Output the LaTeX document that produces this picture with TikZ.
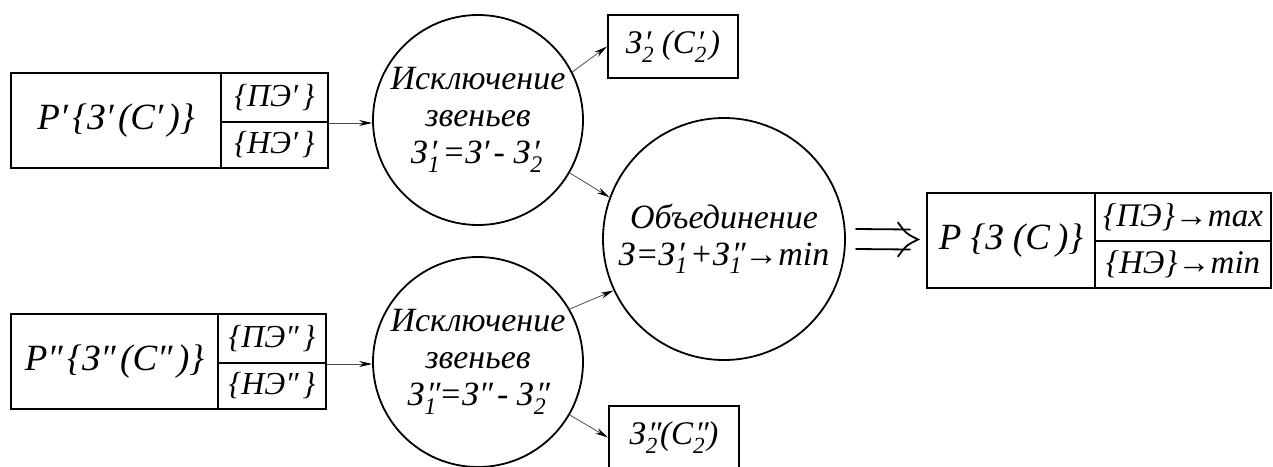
\documentclass[tikz,border=0pt]{standalone}
\usepackage{fontspec}
\setmainfont{LiberationSerif}[Extension=.ttf, UprightFont=*-Regular, ItalicFont=*-Italic]
\usetikzlibrary{arrows.meta,calc}
\makeatletter
\newcommand\ps[2]{\makebox[0pt][l]{\kern0.06em#1}\raisebox{-0.55ex}{\fontsize{\fpeval{0.7*\f@size}}{10}\selectfont #2}\kern0.08em}
\makeatother
\newcommand\pr[1]{#1\kern0.12em}
\begin{document}
\begin{tikzpicture}[x=1pt,y=-1pt,
  bx/.style={draw, line width=2pt, rectangle, inner sep=0pt, anchor=north west},
  circ/.style={draw, line width=1.8pt, circle, inner sep=0pt, align=center, font=\fontsize{34}{37}\selectfont\itshape},
  arr/.style={line width=0.8pt, draw=black!70, -{Stealth[length=13pt,width=6pt,black]}},
  big/.style={font=\fontsize{37}{40}\selectfont\itshape},
  mid/.style={font=\fontsize{32}{34}\selectfont\itshape},
  rt/.style={font=\fontsize{33}{35}\selectfont\itshape},
  dbl/.style={line width=1.8pt, line cap=round}]
\useasboundingbox (0,0) rectangle (1273,466);
\clip (0,0) rectangle (1273,466);
% left upper block
\node[bx, big, minimum width=210pt, minimum height=95pt] (p1) at (10,72) {P\pr{′}\{З\pr{′}(C\pr{′})\}};
\node[bx, mid, minimum width=107pt, minimum height=49pt] (p1a) at (220,72) {\{ПЭ\pr{′}\}};
\node[bx, mid, minimum width=107pt, minimum height=46pt] (p1b) at (220,121) {\{НЭ\pr{′}\}};
% left lower block
\node[bx, big, minimum width=207pt, minimum height=95pt] (p2) at (10,313) {P\pr{″}\{З\pr{″}(C\pr{″})\}};
\node[bx, mid, minimum width=108pt, minimum height=49pt] (p2a) at (217,313) {\{ПЭ\pr{″}\}};
\node[bx, mid, minimum width=108pt, minimum height=46pt] (p2b) at (217,362) {\{НЭ\pr{″}\}};
% circles
\node[circ, minimum size=210pt] (c1) at (478,120) {Исключение\\звеньев\\З\ps{′}{1}=З\pr{′}- З\ps{′}{2}};
\node[circ, minimum size=210pt] (c2) at (478,362) {Исключение\\звеньев\\З\ps{″}{1}=З\pr{″}- З\ps{″}{2}};
\node[circ, minimum size=242pt] (c3) at (724,239) {Объединение\\З=З\ps{′}{1}+З\ps{″}{1}→min};
% small boxes
\node[bx, rt, minimum width=130pt, minimum height=63pt] (s1) at (607,14) {З\ps{′}{2}\,(C\ps{′}{2})};
\node[bx, rt, minimum width=130pt, minimum height=63pt] (s2) at (608,405) {З\ps{″}{2}(C\ps{″}{2})};
% right block
\node[bx, big, minimum width=168pt, minimum height=95pt] (r1) at (926,192) {P \{З (C\,)\}};
\node[bx, rt, minimum width=176pt, minimum height=48pt] (r1a) at (1094,192) {\{ПЭ\}→max};
\node[bx, rt, minimum width=176pt, minimum height=47pt] (r1b) at (1094,240) {\{НЭ\}→min};
% connectors
\draw[arr] (p1a.south east) -- (p1a.south east -| c1.west);
\draw[arr] (p2a.south east) -- (p2a.south east -| c2.west);
\draw[arr] (c1.27) -- (s1.west);
\draw[arr] (c1.-30) -- (c3.160);
\draw[arr] (c2.30) -- (c3.-155);
\draw[arr] (c2.-30) -- (s2.west);
% double implication arrow
\coordinate (da) at ($(c3.east)+(10,0)$);
\coordinate (db) at ($(r1.west)+(-8,-1)$);
\draw[dbl] ($(da)+(0,-10)$) -- ($(db)+(-8,-10)$);
\draw[dbl] ($(da)+(0,10)$) -- ($(db)+(-8,10)$);
\draw[dbl] ($(db)+(-20,-17)$) .. controls ($(db)+(-12,-6)$) .. (db) .. controls ($(db)+(-12,6)$) .. ($(db)+(-20,17)$);
\end{tikzpicture}
\end{document}
